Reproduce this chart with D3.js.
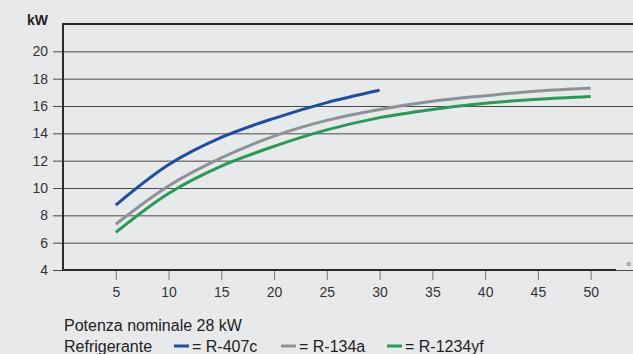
<!DOCTYPE html>
<html>
<head>
<meta charset="utf-8">
<script src="https://cdn.jsdelivr.net/npm/d3@7"></script>
<style>
  html, body { margin: 0; padding: 0; background: #e8e9eb; }
  svg { display: block; font-family: "Liberation Sans", Arial, sans-serif; }
</style>
</head>
<body>
<svg width="633" height="354"></svg>
<script>
// dati
var temps = [5, 10, 15, 20, 25, 30, 35, 40, 45, 50];
var r407c = [8.75, 11.7, 13.7, 15.1, 16.25, 17.15];
var r134a = [7.35, 10.15, 12.2, 13.8, 14.95, 15.75, 16.35, 16.75, 17.1, 17.3];
var r1234yf = [6.75, 9.6, 11.6, 13.05, 14.25, 15.15, 15.75, 16.2, 16.5, 16.7];
var yTicks = [4, 6, 8, 10, 12, 14, 16, 18, 20];
var xTicks = [5, 10, 15, 20, 25, 30, 35, 40, 45, 50];
var series = [
    { name: "R-407c", values: r407c, color: "#1f4e9e" },
    { name: "R-134a", values: r134a, color: "#8b9396" },
    { name: "R-1234yf", values: r1234yf, color: "#2a9955" }
];

var svg = d3.select("svg");

var x = d3.scaleLinear().domain([0, 52.4]).range([63, 616]);
var y = d3.scaleLinear().domain([4, 22]).range([270, 24]);

// griglia + etichette asse y
var yAxis = svg.append("g")
    .attr("transform", "translate(53,0)")
    .call(d3.axisLeft(y).tickValues(yTicks).tickSize(-580).tickPadding(5));
yAxis.select(".domain").remove();
yAxis.selectAll(".tick line").attr("stroke", "#4a4a4a").attr("stroke-width", 1);
yAxis.selectAll(".tick text")
    .attr("fill", "#333")
    .style("font-size", "14px")
    .style("font-family", "Liberation Sans, Arial, sans-serif");

// asse x
var xAxis = svg.append("g")
    .attr("transform", "translate(0,270)")
    .call(d3.axisBottom(x).tickValues(xTicks).tickSize(10).tickPadding(7));
xAxis.select(".domain").remove();
xAxis.selectAll(".tick line").attr("stroke", "#777").attr("stroke-width", 1);
xAxis.selectAll(".tick text")
    .attr("fill", "#333")
    .style("font-size", "14px")
    .style("font-family", "Liberation Sans, Arial, sans-serif");

// cornice
svg.append("line").attr("x1", 63).attr("x2", 633).attr("y1", 24).attr("y2", 24)
    .attr("stroke", "#2b2b2b").attr("stroke-width", 2);
svg.append("line").attr("x1", 63).attr("x2", 63).attr("y1", 23).attr("y2", 271)
    .attr("stroke", "#2b2b2b").attr("stroke-width", 2);
svg.append("line").attr("x1", 62).attr("x2", 616).attr("y1", 270).attr("y2", 270)
    .attr("stroke", "#2b2b2b").attr("stroke-width", 2);

svg.append("text").attr("x", 27).attr("y", 25).text("kW")
    .attr("font-weight", "bold").attr("font-size", 14).attr("fill", "#222");
svg.append("text").attr("x", 626).attr("y", 272).text("°")
    .attr("font-size", 14).attr("fill", "#666");

// curve
var line = d3.line()
    .x(function (d) { return x(d.t); })
    .y(function (d) { return y(d.v); })
    .curve(d3.curveCatmullRom.alpha(0.5));

series.forEach(function (s) {
    var pts = s.values.map(function (v, i) { return { t: temps[i], v: v }; });
    svg.append("path")
        .datum(pts)
        .attr("d", line)
        .attr("fill", "none")
        .attr("stroke", s.color)
        .attr("stroke-width", 3);
});

// didascalia
svg.append("text").attr("x", 64).attr("y", 331).text("Potenza nominale 28 kW")
    .attr("font-size", 16).attr("fill", "#222");
svg.append("text").attr("x", 64).attr("y", 352).text("Refrigerante")
    .attr("font-size", 16).attr("fill", "#222");

var legendX = [174, 281, 387];
series.forEach(function (s, i) {
    svg.append("line")
        .attr("x1", legendX[i]).attr("x2", legendX[i] + 15)
        .attr("y1", 346).attr("y2", 346)
        .attr("stroke", s.color).attr("stroke-width", 3);
    svg.append("text").attr("x", legendX[i] + 18).attr("y", 352)
        .text("= " + s.name)
        .attr("font-size", 16).attr("fill", "#222");
});
</script>
</body>
</html>
